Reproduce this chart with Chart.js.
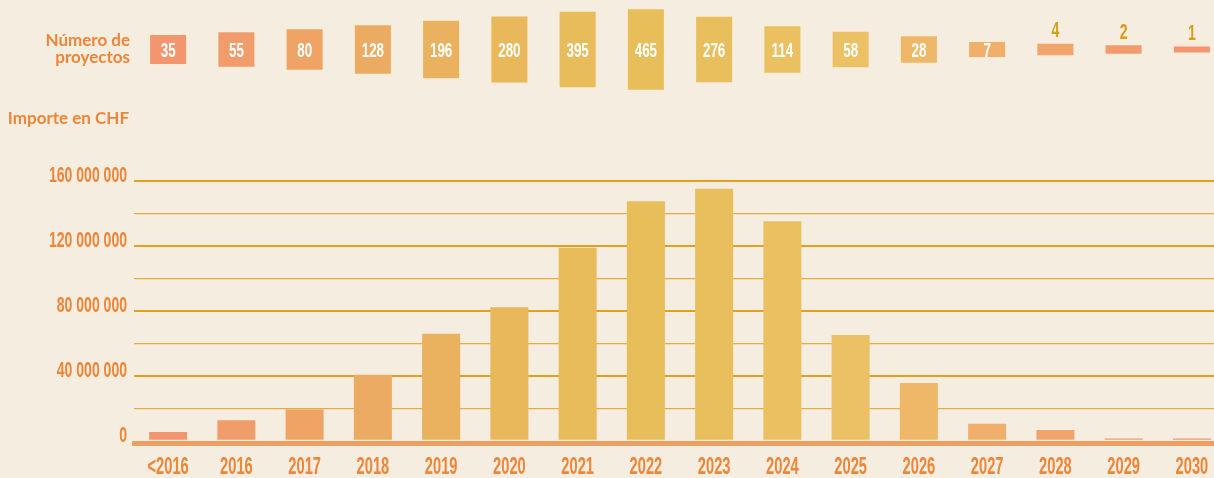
<!DOCTYPE html>
<html><head><meta charset="utf-8">
<script src="https://cdn.jsdelivr.net/npm/chart.js@4.4.1/dist/chart.umd.min.js"></script>
<style>
html,body{margin:0;padding:0;background:#f4ede0;overflow:hidden;width:1214px;height:478px;}
#wrap{position:absolute;left:0;top:0;width:1226px;height:478px;}
</style></head><body>
<div id="wrap"><canvas id="c" width="1226" height="478"></canvas></div>
<script>
// ---------- data ----------
const categories = ['<2016','2016','2017','2018','2019','2020','2021','2022','2023','2024','2025','2026','2027','2028','2029','2030'];
const amountsCHF = [5400000, 12600000, 19300000, 40700000, 65900000, 82200000, 118900000, 147500000, 155300000, 135200000, 65100000, 35600000, 10500000, 6600000, 1300000, 1400000];
const projectCounts = [35, 55, 80, 128, 196, 280, 395, 465, 276, 114, 58, 28, 7, 4, 2, 1];
const yTickValues = [0, 20000000, 40000000, 60000000, 80000000, 100000000, 120000000, 140000000, 160000000];
const yLabelStep = 40000000;
const labelProjects = ['Número de', 'proyectos'];
const labelAmount = 'Importe en CHF';

// ---------- styles ----------
const columnColors = ['#f3966f','#f19d6b','#efa466','#ecab62','#eab25e','#e8b85b','#e8bc5a','#e8be5b','#e9bf5d','#eac061','#ecc166','#eeb868','#f0af6a','#f1a56c','#f39b6f','#f49570'];
const ORANGE = '#ef8536';
const GOLD = '#d99c12';
const NARROW = '"Liberation Sans Narrow", "Liberation Sans", sans-serif';

// layout constants (pixels)
const ZERO_PX = 440.7, AREA_BOTTOM = 443.5, PX_PER_CHF = 1.623e-6;
const BOX_CENTER = 49.5;
const yMin = -(AREA_BOTTOM - ZERO_PX) / PX_PER_CHF;
const yMax = ZERO_PX / PX_PER_CHF;
function boxHeight(v){ return 8.0 * Math.pow(v, 0.38); }

// condensed text (DIN-like) via horizontal scaling
const mctx = document.createElement('canvas').getContext('2d');
mctx.font = 'bold 22px ' + NARROW;
const SX = 7.8 / mctx.measureText('0').width;

const canvas = document.getElementById('c');
const ctx = canvas.getContext('2d');
const origFill = ctx.fillText.bind(ctx);
ctx.__plain = false;
ctx.fillText = function(t, x, y, mw){
  if (ctx.__plain) return origFill(t, x, y);
  ctx.save(); ctx.translate(x, y); ctx.scale(SX, 1); origFill(t, 0, 0); ctx.restore();
};

function fmt(v){ return String(v).replace(/\B(?=(\d{3})+(?!\d))/g, ' '); }

const overlay = {
  id: 'overlay',
  afterDatasetsDraw(chart){
    const c = chart.ctx;
    const meta = chart.getDatasetMeta(1);
    c.save();
    c.textAlign = 'center';
    c.textBaseline = 'alphabetic';
    meta.data.forEach((el, i) => {
      const v = projectCounts[i];
      const top = Math.min(el.y, el.base), bot = Math.max(el.y, el.base);
      if (v >= 5) {
        c.font = 'bold 21px ' + NARROW;
        c.fillStyle = '#ffffff';
        c.fillText(String(v), el.x, (top + bot) / 2 + 7.5);
      } else {
        c.font = 'bold 22px ' + NARROW;
        c.fillStyle = GOLD;
        c.fillText(String(v), el.x, top - 5.5);
      }
    });
    // side labels (regular width)
    c.__plain = true;
    c.font = 'bold 17px Lato, "Open Sans", sans-serif';
    c.fillStyle = ORANGE;
    c.textAlign = 'right';
    c.fillText(labelProjects[0], 130, 45.7);
    c.fillText(labelProjects[1], 130, 63);
    c.fillText(labelAmount, 129, 123.5);
    c.__plain = false;
    c.restore();
  }
};

new Chart(ctx, {
  type: 'bar',
  data: {
    labels: categories,
    datasets: [
      {
        label: 'Importe en CHF',
        data: amountsCHF,
        yAxisID: 'y',
        backgroundColor: columnColors,
        borderWidth: 0,
        barPercentage: 0.557,
        categoryPercentage: 1,
        grouped: false
      },
      {
        label: 'Número de proyectos',
        data: projectCounts.map(v => { const h = boxHeight(v); return [-h / 2, h / 2]; }),
        yAxisID: 'yBox',
        backgroundColor: columnColors,
        borderColor: 'rgba(255,236,205,0.8)',
        borderWidth: 1,
        borderSkipped: false,
        barPercentage: 0.557,
        categoryPercentage: 1,
        grouped: false
      }
    ]
  },
  options: {
    responsive: false,
    animation: false,
    layout: {padding: 0},
    plugins: {legend: {display: false}, tooltip: {enabled: false}, title: {display: false}},
    scales: {
      x: {
        type: 'category',
        offset: true,
        grid: {display: false, drawTicks: false},
        border: {display: true, color: '#eea062', width: 5},
        ticks: {color: ORANGE, font: {family: NARROW, size: 23, weight: 'bold'}, padding: 10, maxRotation: 0, autoSkip: false},
        afterFit(s){ s.height = 478 - AREA_BOTTOM; s.paddingLeft = 0; s.paddingRight = 0; }
      },
      y: {
        position: 'left',
        min: yMin,
        max: yMax,
        afterBuildTicks(s){ s.ticks = yTickValues.map(v => ({value: v})); },
        ticks: {
          autoSkip: false,
          color: ORANGE,
          font: {family: NARROW, size: 22, weight: 'bold'},
          padding: 7,
          labelOffset: -5,
          callback: v => (v % yLabelStep === 0 ? fmt(v) : '')
        },
        grid: {
          drawTicks: false,
          color: c => (c.tick && c.tick.value === 0 ? 'rgba(0,0,0,0)' : (c.tick && c.tick.value % yLabelStep === 0 ? '#e1a11e' : '#e6ad3c')),
          lineWidth: c => (c.tick && c.tick.value % yLabelStep === 0 ? 2 : 1.3)
        },
        border: {display: false},
        afterFit(s){ s.width = 134; s.paddingTop = 0; s.paddingBottom = 0; }
      },
      yBox: {
        position: 'right',
        display: false,
        min: -(AREA_BOTTOM - BOX_CENTER),
        max: BOX_CENTER,
        grid: {display: false}
      }
    }
  },
  plugins: [overlay]
});
</script>
</body></html>
